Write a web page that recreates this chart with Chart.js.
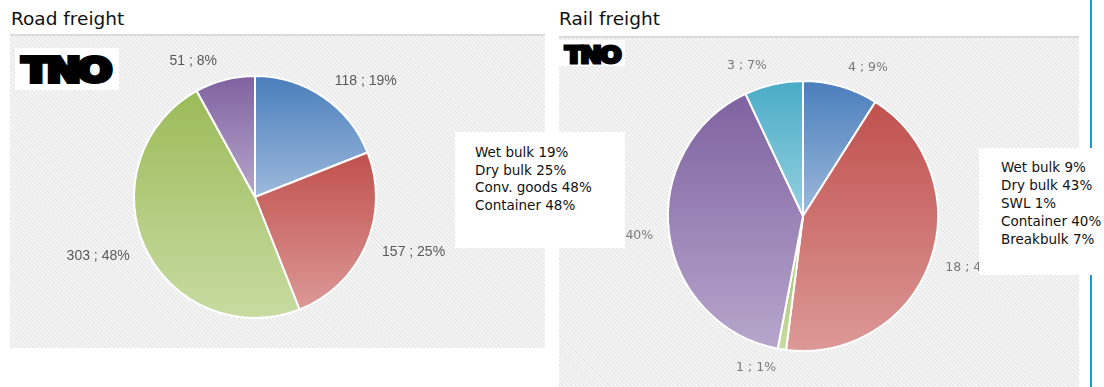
<!DOCTYPE html>
<html>
<head>
<meta charset="utf-8">
<script src="https://cdn.jsdelivr.net/npm/chart.js"></script>
<style>
  html, body { margin: 0; padding: 0; background: #fff; }
  body { width: 1104px; height: 387px; position: relative; overflow: hidden; font-family: "DejaVu Sans", sans-serif; }
  .title { position: absolute; top: 8px; font-size: 18.5px; color: #111; }
  .panel {
    position: absolute;
    background: repeating-linear-gradient(45deg, #f4f4f4 0px, #f4f4f4 1.6px, #e0e0e0 2.2px, #f4f4f4 3px);
    border-top: 2px solid #dadada;
  }
  .panel canvas { position: absolute; left: 0; top: 0; }
  .logo { position: absolute; background: #fff; overflow: hidden; }
  .logo span {
    position: absolute; font-family: "DejaVu Sans", sans-serif; font-weight: bold; color: #000;
    -webkit-text-stroke-color: #000; transform-origin: 0 0; line-height: 1; white-space: nowrap;
  }
  .key { position: absolute; background: #fff; z-index: 5; font-size: 13.5px; color: #111; }
  .key div { position: absolute; white-space: nowrap; }
  .rule { position: absolute; left: 1090px; width: 2px; top: 0; height: 387px; background: #1798dd; }
</style>
</head>
<body>
<div class="rule"></div>

<div class="title" style="left:11px">Road freight</div>
<div class="title" style="left:559px">Rail freight</div>

<div class="panel" id="roadPanel" style="left:10px; top:34px; width:535px; height:312px">
  <div class="logo" style="left:5px; top:12px; width:104px; height:42px">
    <span style="left:7px; top:6px; font-size:33px; letter-spacing:-3px; -webkit-text-stroke-width:4px; transform:scaleX(1.25)">TNO</span>
  </div>
  <div style="position:absolute; left:0; top:0; width:535px; height:312px"><canvas id="road"></canvas></div>
</div>

<div class="panel" id="railPanel" style="left:559px; top:36px; width:520px; height:351px">
  <div class="logo" style="left:0; top:2px; width:66px; height:26px">
    <span style="left:6px; top:4px; font-size:23px; letter-spacing:-2px; -webkit-text-stroke-width:3px; transform:scaleX(1.12)">TNO</span>
  </div>
  <div style="position:absolute; left:0; top:0; width:520px; height:351px"><canvas id="rail"></canvas></div>
</div>

<div class="key" id="roadKey" style="left:455px; top:132px; width:170px; height:116px"></div>
<div class="key" id="railKey" style="left:979px; top:148px; width:125px; height:127px"></div>

<script>
// Road freight
const roadCategories = ['Wet bulk', 'Dry bulk', 'Conv. goods', 'Container'];
const roadCounts = [118, 157, 303, 51];
const roadShares = [19, 25, 48, 8];
const roadKeyShares = [19, 25, 48, 48];

// Rail freight
const railCategories = ['Wet bulk', 'Dry bulk', 'SWL', 'Container', 'Breakbulk'];
const railCounts = [4, 18, 1, 17, 3];
const railShares = [9, 43, 1, 40, 7];

// top / bottom colour of each slice gradient
const sliceTop = ['#4a7ebb', '#c0504d', '#9bbb59', '#7f62a0', '#4bacc6'];
const sliceBottom = ['#9db9dc', '#dc9997', '#c8dba2', '#b6a6cc', '#95d0e0'];

function sliceGeometry(chart, data, index) {
  const area = chart.chartArea;
  const total = data.reduce((a, b) => a + b, 0);
  let a0 = -Math.PI / 2;
  for (let k = 0; k < index; k++) a0 += data[k] / total * Math.PI * 2;
  const a1 = a0 + data[index] / total * Math.PI * 2;
  const cx = (area.left + area.right) / 2;
  const cy = (area.top + area.bottom) / 2;
  const r = Math.min(area.width, area.height) / 2 - 1;
  return { a0, a1, cx, cy, r };
}

function sliceFill(c) {
  const chart = c.chart;
  if (!chart.chartArea || c.dataIndex === undefined) return sliceTop[c.dataIndex || 0];
  const g = sliceGeometry(chart, c.dataset.data, c.dataIndex);
  const ys = [g.cy, g.cy + g.r * Math.sin(g.a0), g.cy + g.r * Math.sin(g.a1)];
  [-Math.PI / 2, Math.PI / 2, Math.PI * 1.5].forEach(e => {
    if (e >= g.a0 && e <= g.a1) ys.push(g.cy + g.r * Math.sin(e));
  });
  const grad = chart.ctx.createLinearGradient(0, Math.min(...ys), 0, Math.max(...ys));
  grad.addColorStop(0, sliceTop[c.dataIndex]);
  grad.addColorStop(1, sliceBottom[c.dataIndex]);
  return grad;
}

// "value ; share" labels set just outside each slice
const outsideLabels = {
  id: 'outsideLabels',
  afterDatasetsDraw(chart, args, opts) {
    const ctx = chart.ctx;
    const data = chart.data.datasets[0].data;
    ctx.save();
    ctx.font = opts.font;
    ctx.fillStyle = opts.color;
    ctx.textBaseline = 'middle';
    ctx.textAlign = 'center';
    data.forEach((v, i) => {
      const g = sliceGeometry(chart, data, i);
      const mid = (g.a0 + g.a1) / 2;
      const dx = Math.cos(mid), dy = Math.sin(mid);
      const text = opts.counts[i] + opts.sep + v + '%';
      const w = ctx.measureText(text).width;
      const px = g.cx + dx * (g.r + opts.gap);
      const py = g.cy + dy * (g.r + opts.gap);
      const x = px + (dx >= 0 ? 1 : -1) * (w / 2 + opts.pad);
      const y = py + dy * opts.height / 2;
      ctx.fillText(text, x, y);
    });
    ctx.restore();
  }
};

function pieChart(id, labels, shares, counts, padding, labelOpts) {
  return new Chart(document.getElementById(id), {
    type: 'pie',
    data: {
      labels: labels,
      datasets: [{
        data: shares,
        backgroundColor: sliceFill,
        borderColor: '#ffffff',
        borderWidth: 2
      }]
    },
    options: {
      responsive: true,
      maintainAspectRatio: false,
      animation: false,
      events: [],
      layout: { padding: padding },
      plugins: {
        legend: { display: false },
        tooltip: { enabled: false },
        outsideLabels: Object.assign({ counts: counts }, labelOpts)
      }
    },
    plugins: [outsideLabels]
  });
}

pieChart('road', roadCategories, roadShares, roadCounts,
  { left: 123, right: 168, top: 39, bottom: 29 },
  { font: '14px "Liberation Sans", Arial, sans-serif', color: '#595959', sep: ' ; ', gap: 12, pad: 5, height: 14 });

pieChart('rail', railCategories, railShares, railCounts,
  { left: 108, right: 140, top: 42, bottom: 37 },
  { font: '12.5px "DejaVu Sans", sans-serif', color: '#7a7a7a', sep: ' ; ', gap: 12, pad: 4, height: 14 });

// text boxes listing the shares
function fillKey(id, names, shares, left, top, step) {
  const box = document.getElementById(id);
  names.forEach((n, i) => {
    const d = document.createElement('div');
    d.textContent = n + ' ' + shares[i] + '%';
    d.style.left = left + 'px';
    d.style.top = (top + i * step) + 'px';
    box.appendChild(d);
  });
}
fillKey('roadKey', roadCategories, roadKeyShares, 20, 12, 17.7);
fillKey('railKey', railCategories, railShares, 22, 11, 18);
</script>
</body>
</html>
